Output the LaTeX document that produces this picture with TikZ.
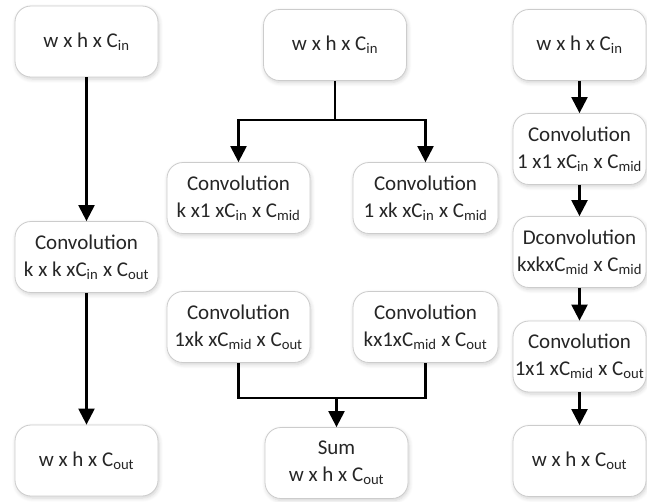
\documentclass[tikz,border=0pt]{standalone}
\usepackage{fontspec}
\setmainfont{Carlito}
\usetikzlibrary{arrows.meta,shadows.blur}
\tikzset{
  box/.style={draw=black!20, line width=0.8pt, fill=white, rounded corners=16pt,
    minimum width=143pt, minimum height=71pt, align=center, text=black!85,
    font=\fontsize{21}{27}\selectfont, inner sep=1pt,
    blur shadow={shadow xshift=1pt, shadow yshift=-2pt, shadow blur steps=6, shadow opacity=18, shadow blur radius=4pt}},
  rbox/.style={box, minimum width=133pt},
  conn/.style={line width=2.3pt, black},
  arr/.style={conn, -{Triangle[width=16pt,length=16pt]}}
}
\newcommand{\sub}[1]{\textsubscript{#1}}
\begin{document}
\begin{tikzpicture}[x=1pt,y=-1pt]
\useasboundingbox (0,0) rectangle (647,501);
% left column
\node[box] (ltop) at (86.5,41.5) {w x h x C\sub{in}};
\node[box] (lconv) at (86.5,257) {Convolution\\k x k xC\sub{in} x C\sub{out}};
\node[box] (lbot) at (86.5,460.5) {w x h x C\sub{out}};
\draw[arr] (ltop) -- (lconv);
\draw[arr] (lconv) -- (lbot);
% middle column
\node[box] (mtop) at (335,45) {w x h x C\sub{in}};
\node[box] (ca) at (238.5,198) {Convolution\\k x1 xC\sub{in} x C\sub{mid}};
\node[box,minimum width=145pt] (cb) at (425.5,198) {Convolution\\1 xk xC\sub{in} x C\sub{mid}};
\node[box] (cc) at (238.5,327) {Convolution\\1xk xC\sub{mid} x C\sub{out}};
\node[box,minimum width=145pt] (cd) at (425.5,327) {Convolution\\kx1xC\sub{mid} x C\sub{out}};
\node[box] (sum) at (336.5,463) {Sum\\w x h x C\sub{out}};
\coordinate (br) at (335,120);
\coordinate (mg) at (336.5,398);
\draw[conn] (mtop) -- (br);
\draw[arr] (br) -| (ca.north);
\draw[arr] (br) -| (cb.north);
\draw[conn, line join=miter] (cc.south) |- (mg) -| (cd.south);
\draw[arr] (mg) -- (sum.north);
% right column
\node[rbox] (rtop) at (579.5,45) {w x h x C\sub{in}};
\node[rbox] (r1) at (579.5,149) {Convolution\\1 x1 xC\sub{in} x C\sub{mid}};
\node[rbox] (r2) at (579.5,252) {Dconvolution\\kxkxC\sub{mid} x C\sub{mid}};
\node[rbox] (r3) at (579.5,356.5) {Convolution\\1x1 xC\sub{mid} x C\sub{out}};
\node[rbox] (rbot) at (579.5,461) {w x h x C\sub{out}};
\draw[arr] (rtop) -- (r1);
\draw[arr] (r1) -- (r2);
\draw[arr] (r2) -- (r3);
\draw[arr] (r3) -- (rbot);
\end{tikzpicture}
\end{document}
